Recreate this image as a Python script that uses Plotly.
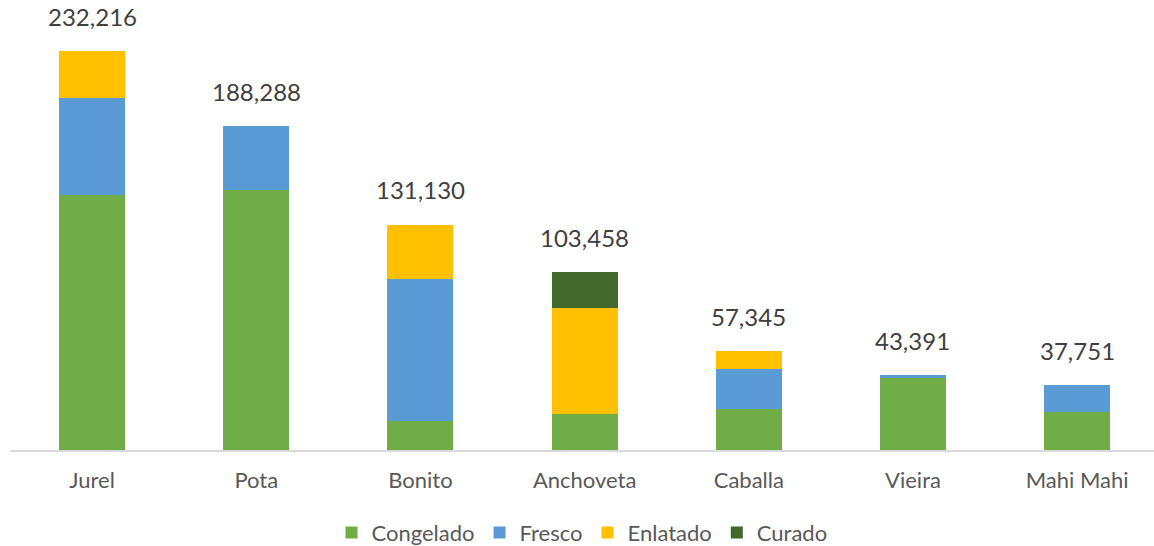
import plotly.graph_objects as go

categories = ["Jurel", "Pota", "Bonito", "Anchoveta", "Caballa", "Vieira", "Mahi Mahi"]
congelado = [148400, 151300, 16900, 21200, 23600, 42391, 22000]
fresco = [56450, 36988, 82650, 0, 23800, 1000, 15751]
enlatado = [27366, 0, 31580, 61700, 9945, 0, 0]
curado = [0, 0, 0, 20558, 0, 0, 0]
totals = [232216, 188288, 131130, 103458, 57345, 43391, 37751]
total_labels = ["232,216", "188,288", "131,130", "103,458", "57,345", "43,391", "37,751"]

series = [
    ("Congelado", congelado, "#70AD47"),
    ("Fresco", fresco, "#5B9BD5"),
    ("Enlatado", enlatado, "#FFC000"),
    ("Curado", curado, "#43682B"),
]

FONT = "Lato, Open Sans, sans-serif"
fig = go.Figure()
for name, vals, col in series:
    fig.add_trace(go.Bar(
        x=categories, y=vals, name=name, width=0.402,
        marker=dict(color=col, line=dict(width=0)),
        hoverinfo="x+y+name",
    ))

for c, t, lab in zip(categories, totals, total_labels):
    fig.add_annotation(x=c, y=t, text=lab, showarrow=False, yanchor="middle",
                       yshift=35, font=dict(family=FONT, size=24, color="#404040"))

fig.update_layout(
    barmode="stack",
    width=1154, height=546,
    margin=dict(l=10, r=0, t=0, b=96, autoexpand=False),
    plot_bgcolor="white", paper_bgcolor="white",
    xaxis=dict(
        range=[-0.5, 6.468], showgrid=False, showline=True, linecolor="#D9D9D9", linewidth=2,
        ticks="", tickfont=dict(family=FONT, size=22, color="#595959"),
        ticklabelstandoff=10, automargin=False,
    ),
    yaxis=dict(range=[0, 261900], visible=False, showgrid=False, automargin=False),
    legend=dict(orientation="h", x=0.5, xanchor="center", y=-0.184, yanchor="middle",
                font=dict(family=FONT, size=22, color="#595959"), itemwidth=30,
                traceorder="normal"),
    showlegend=True,
)

fig.write_html("out.html")
